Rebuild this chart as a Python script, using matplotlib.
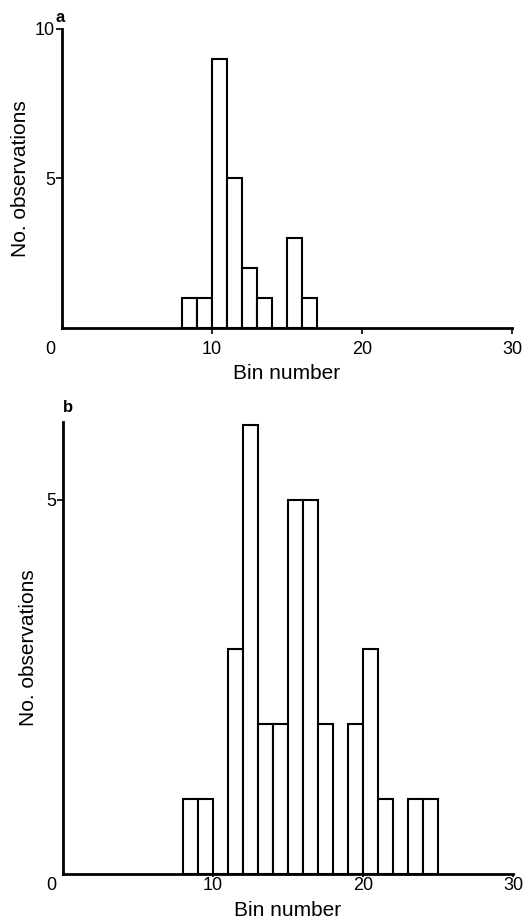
"""Two stacked histograms of observations per bin (panels a and b)."""

import matplotlib.pyplot as plt
import matplotlib.transforms as mtransforms

plt.rcParams["font.family"] = ["Liberation Sans", "DejaVu Sans"]

# panel a: left edge of each bin and its count
bins_a = [8, 9, 10, 11, 12, 13, 14, 15, 16]
counts_a = [1, 1, 9, 5, 2, 1, 0, 3, 1]

# panel b
bins_b = [8, 9, 10, 11, 12, 13, 14, 15, 16, 17, 18, 19, 20, 21, 22, 23, 24]
counts_b = [1, 1, 0, 3, 6, 2, 2, 5, 5, 2, 0, 2, 3, 1, 0, 1, 1]

xticks = [0, 10, 20, 30]
yticks_a = [5, 10]
yticks_b = [5]

W, H = 527, 924
fig = plt.figure(figsize=(W / 100, H / 100), dpi=100)


def px_axes(left, right, top, bottom):
    return fig.add_axes([left / W, 1 - bottom / H, (right - left) / W, (bottom - top) / H])


def style(ax, ylim, yticks, ylabel_x, xpad, xlabelpad, xticklen):
    ax.set_xlim(0, 30)
    ax.set_ylim(0, ylim)
    for s in ("top", "right"):
        ax.spines[s].set_visible(False)
    for s in ("left", "bottom"):
        ax.spines[s].set_linewidth(2.0)
    ax.set_xticks(xticks)
    ax.set_xticklabels([str(t) for t in xticks])
    ax.set_yticks(yticks)
    ax.set_yticklabels([str(t) for t in yticks])
    ax.tick_params(axis="both", direction="out", length=4, width=1.2,
                   labelsize=13)
    ax.tick_params(axis="x", pad=xpad, length=xticklen)
    ax.tick_params(axis="y", pad=1)
    # the "0" sits left of the y axis
    lbl = ax.get_xticklabels()[0]
    lbl.set_transform(lbl.get_transform() +
                      mtransforms.ScaledTranslation(-0.12, 0, fig.dpi_scale_trans))
    ax.xaxis.get_major_ticks()[0].tick1line.set_visible(False)
    ax.set_xlabel("Bin number", fontsize=15, labelpad=xlabelpad)
    ax.set_ylabel("No. observations", fontsize=15)
    ax.yaxis.set_label_coords(ylabel_x, 0.5)


ax_a = px_axes(62, 512, 29, 328)
ax_a.bar(bins_a, counts_a, width=1, align="edge", facecolor="white",
         edgecolor="black", linewidth=1.5, zorder=3)
style(ax_a, 10, yticks_a, -0.071, 5.5, 4, 4)

ax_b = px_axes(63, 513, 422, 874)
ax_b.bar(bins_b, counts_b, width=1, align="edge", facecolor="white",
         edgecolor="black", linewidth=1.5, zorder=3)
style(ax_b, 6.04, yticks_b, -0.056, 0.5, 5, 2)

fig.text(60 / W, 1 - 17 / H, "a", fontsize=12, fontweight="bold",
         ha="center", va="center")
fig.text(68 / W, 1 - 408 / H, "b", fontsize=12, fontweight="bold",
         ha="center", va="center")

fig.savefig("out.png", dpi=100)
